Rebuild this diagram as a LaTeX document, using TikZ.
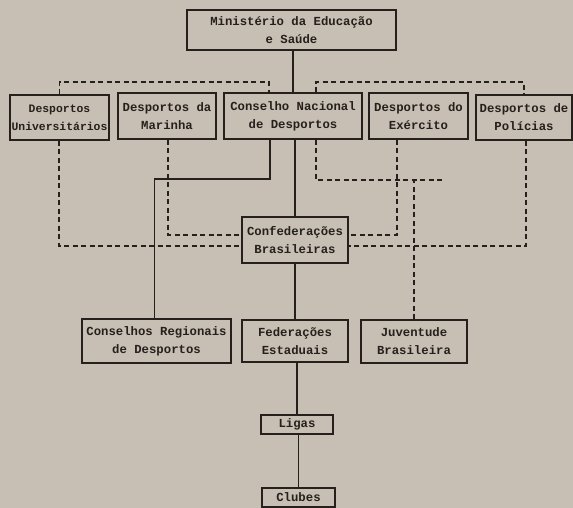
\documentclass[tikz,border=0pt]{standalone}
\usepackage{fontspec}
\setmonofont{Liberation Mono}
\definecolor{paper}{RGB}{199,191,179}
\definecolor{ink}{RGB}{38,32,28}
\begin{document}
\begin{tikzpicture}[x=1pt,y=-1pt,
  box/.style={draw=ink,line width=1.3pt,inner sep=0pt,align=center,text=ink,
    font=\ttfamily\bfseries\fontsize{12.3}{18}\selectfont},
  link/.style={draw=ink,line width=1.2pt},
  dlink/.style={draw=ink,line width=1.2pt,dash pattern=on 5pt off 3.5pt}]
\fill[paper] (0,0) rectangle (573,508);
\useasboundingbox (0,0) rectangle (573,508);
% top
\node[box,minimum width=209pt,minimum height=40pt] (min) at (291.5,30) {Ministério da Educação\\e Saúde};
% second row
\node[box,minimum width=99pt,minimum height=45pt,font=\ttfamily\bfseries\fontsize{11.4}{18}\selectfont] (univ) at (59.5,117.5) {Desportos\\Universitários};
\node[box,minimum width=98pt,minimum height=46pt] (mar) at (167,116) {Desportos da\\Marinha};
\node[box,minimum width=138pt,minimum height=46pt] (cnd) at (293,116) {Conselho Nacional\\de Desportos};
\node[box,minimum width=99pt,minimum height=46pt] (exe) at (418.5,116) {Desportos do\\Exército};
\node[box,minimum width=96pt,minimum height=45pt] (pol) at (524,117.5) {Desportos de\\Polícias};
% middle
\node[box,minimum width=106pt,minimum height=46pt] (conf) at (295,240) {Confederações\\Brasileiras};
% third row
\node[box,minimum width=149pt,minimum height=44pt] (creg) at (156.5,341) {Conselhos Regionais\\de Desportos};
\node[box,minimum width=106pt,minimum height=42pt] (fed) at (295,341) {Federações\\Estaduais};
\node[box,minimum width=106pt,minimum height=43pt] (juv) at (414,341.5) {Juventude\\Brasileira};
% bottom
\node[box,minimum width=72pt,minimum height=19pt] (ligas) at (297,424.5) {Ligas};
\node[box,minimum width=73pt,minimum height=19pt] (clubes) at (298.5,497.5) {Clubes};
% solid connectors
\draw[link] (cnd.north) -- (cnd.north |- min.south);
\draw[link] (conf.north) -- (conf.north |- cnd.south);
\draw[link] (fed.north) -- (conf.south);
\draw[link] (ligas.north) -- (ligas.north |- fed.south);
\draw[link] (clubes.north) -- (clubes.north |- ligas.south);
\coordinate (sl) at (270,179);
\draw[link] (sl |- cnd.south) -- (sl) -| ([xshift=-2pt]creg.north);
% dashed connectors
\coordinate (tl) at (269,82);
\coordinate (tr) at (316,82);
\draw[dlink] (univ.north) |- (tl) -- (tl |- cnd.north);
\draw[dlink] (tr |- cnd.north) -- (tr) -| (pol.north);
\coordinate (ml) at (168,235);
\coordinate (ll) at (59,246);
\coordinate (mr) at (397,235);
\coordinate (lr) at (526,246);
\draw[dlink] (ml |- mar.south) -- (ml) -- (ml -| conf.west);
\draw[dlink] (ll |- univ.south) -- (ll) -- (ll -| conf.west);
\draw[dlink] (mr |- exe.south) -- (mr) -- (mr -| conf.east);
\draw[dlink] (lr |- pol.south) -- (lr) -- (lr -| conf.east);
\coordinate (ds) at (316,180);
\coordinate (de) at (443,180);
\draw[dlink] (ds |- cnd.south) -- (ds) -- (de);
\draw[dlink] (juv.north) -- (juv.north |- de);
\end{tikzpicture}
\end{document}
